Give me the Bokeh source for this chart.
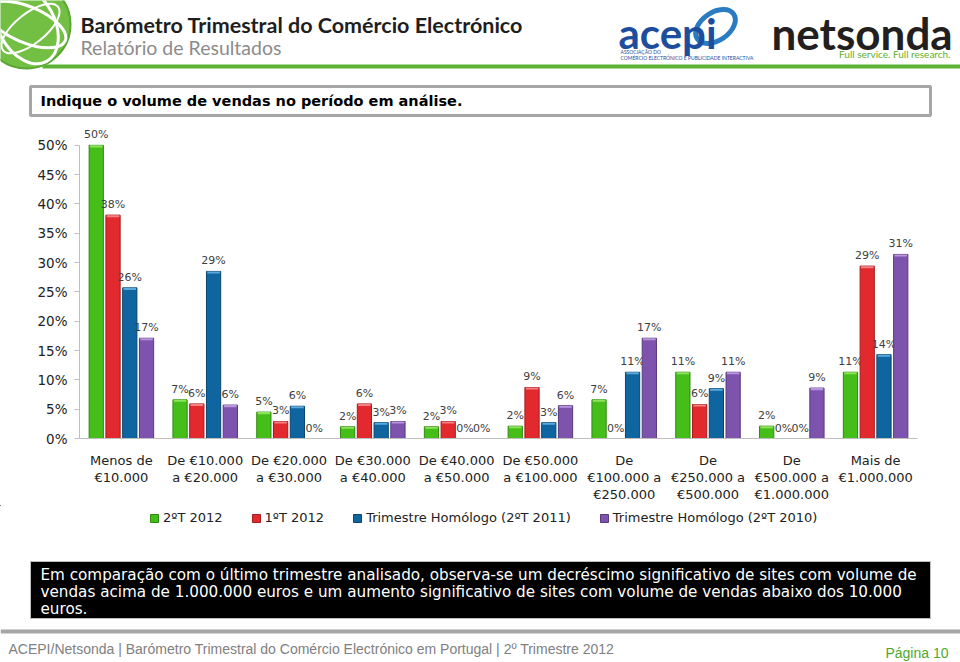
import math
from bokeh.plotting import figure
from bokeh.models import (ColumnDataSource, Range1d, FactorRange, FixedTicker,
                          PrintfTickFormatter, Legend, LegendItem)
from bokeh.transform import dodge
from bokeh.layouts import column
from bokeh.core.properties import value
from bokeh.embed import file_html
from bokeh.resources import INLINE

# ---------------- data ----------------
categories = ["Menos de\n€10.000", "De €10.000\na €20.000", "De €20.000\na €30.000",
              "De €30.000\na €40.000", "De €40.000\na €50.000", "De €50.000\na €100.000",
              "De\n€100.000 a\n€250.000", "De\n€250.000 a\n€500.000",
              "De\n€500.000 a\n€1.000.000", "Mais de\n€1.000.000"]
series_names = ["2ºT 2012", "1ºT 2012", "Trimestre Homólogo (2ºT 2011)",
                "Trimestre Homólogo (2ºT 2010)"]
t2_2012 = [50.0, 6.6, 4.5, 2.0, 2.0, 2.1, 6.6, 11.3, 2.1, 11.3]
t1_2012 = [38.1, 5.9, 2.9, 5.9, 2.9, 8.7, 0.0, 5.8, 0.0, 29.4]
t2_2011 = [25.7, 28.5, 5.5, 2.7, 0.0, 2.7, 11.3, 8.5, 0.0, 14.3]
t2_2010 = [17.1, 5.7, 0.0, 2.9, 0.0, 5.6, 17.1, 11.3, 8.6, 31.4]
series_values = [t2_2012, t1_2012, t2_2011, t2_2010]
y_ticks = [0, 5, 10, 15, 20, 25, 30, 35, 40, 45, 50]

title = "Barómetro Trimestral do Comércio Electrónico"
subtitle = "Relatório de Resultados"
question = "Indique o volume de vendas no período em análise."
note_lines = ["Em comparação com o último trimestre analisado, observa-se um decréscimo significativo de sites com volume de",
              "vendas acima de 1.000.000 euros e um aumento significativo de sites com volume de vendas abaixo dos 10.000",
              "euros."]
footer = "ACEPI/Netsonda | Barómetro Trimestral do Comércio Electrónico em Portugal | 2º Trimestre 2012"
page_label = "Página 10"

# ---------------- style ----------------
fills = ["#46BE1A", "#E2292E", "#0F659F", "#7E53AE"]
edges = ["#2E8A0E", "#A41D1F", "#0A4670", "#583A7B"]
caps = ["#8FE25E", "#F38284", "#5CA9DC", "#B995DE"]
offsets = [-0.3, -0.1, 0.1, 0.3]
FONT = value("DejaVu Sans")
W = 960


def deco_fig(h):
    f = figure(width=W, height=h, x_range=Range1d(0, W), y_range=Range1d(h, 0),
               toolbar_location=None, output_backend="svg", min_border=0,
               x_axis_location=None, y_axis_location=None, frame_align=False)
    f.grid.visible = False
    f.outline_line_color = None
    return f


# ---------------- header ----------------
hdr = deco_fig(118)
hdr.circle(x=26, y=24, radius=44, fill_color="#72BF44", line_color="#5AA832", line_width=2)
hdr.ellipse(x=26, y=24, width=56, height=84, angle=0.5, fill_color=None, line_color="white", line_width=3)
hdr.ellipse(x=26, y=24, width=84, height=36, angle=-0.4, fill_color=None, line_color="white", line_width=3)
hdr.ellipse(x=30, y=28, width=30, height=70, angle=-0.9, fill_color=None, line_color="white", line_width=2)
hdr.text(x=[80], y=[24], text=[title], text_font=value("Lato"), text_font_style="bold",
         text_font_size="21.5px", text_color="#1E1E1E", text_baseline="middle")
hdr.text(x=[80], y=[47], text=[subtitle], text_font=value("Lato"),
         text_font_size="19.5px", text_color="#8C8C8C", text_baseline="middle")
hdr.segment(x0=[42], y0=[66], x1=[W], y1=[66], line_color="#5CB335", line_width=4)
# acepi logo
hdr.ellipse(x=715, y=26, width=44, height=28, angle=0.6, fill_color=None, line_color="#2A7CC2", line_width=5)
hdr.text(x=[618], y=[32], text=["acepi"], text_font=value("Lato"), text_font_style="bold",
         text_font_size="42px", text_color="#1D4E9E", text_baseline="middle")
hdr.text(x=[620], y=[51], text=["ASSOCIAÇÃO DO"], text_font=value("Lato"),
         text_font_size="5px", text_color="#1D4E9E", text_baseline="middle")
hdr.text(x=[620], y=[57], text=["COMÉRCIO ELECTRÓNICO E PUBLICIDADE INTERACTIVA"], text_font=value("Lato"),
         text_font_size="5px", text_color="#1D4E9E", text_baseline="middle")
# netsonda logo
hdr.text(x=[771], y=[32], text=["netsonda"], text_font=value("Lato"), text_font_style="bold",
         text_font_size="44px", text_color="#231F20", text_baseline="middle")
hdr.text(x=[950], y=[53], text=["Full service. Full research."], text_font=value("Lato"),
         text_font_size="10px", text_color="#5DB12F", text_baseline="middle", text_align="right")
# question box
hdr.quad(left=[30], right=[930], top=[86], bottom=[115], fill_color="white",
         line_color="#A6A6A6", line_width=3)
hdr.text(x=[40], y=[100.5], text=[question], text_font=FONT, text_font_style="bold",
         text_font_size="14.5px", text_color="black", text_baseline="middle")

# ---------------- chart ----------------
data = dict(cat=categories)
for i, vals in enumerate(series_values):
    data[f"v{i}"] = vals
    data[f"c{i}"] = [max(v - 0.35, 0) for v in vals]
    data[f"l{i}"] = [f"{math.floor(v + 0.5)}%" for v in vals]
src = ColumnDataSource(data)

p = figure(width=W, height=387, x_range=FactorRange(*categories), y_range=Range1d(0, 54.24),
           toolbar_location=None, output_backend="svg", frame_align=False,
           min_border_left=79, min_border_right=43, min_border_top=2, min_border_bottom=65)
p.grid.visible = False
p.outline_line_color = None

for i in range(4):
    xs = dodge("cat", offsets[i], range=p.x_range)
    p.vbar(x=xs, top=f"v{i}", width=0.17, source=src, fill_color=fills[i],
           line_color=edges[i], line_width=1)
    p.vbar(x=xs, top=f"v{i}", bottom=f"c{i}", width=0.15, source=src,
           fill_color=caps[i], line_color=None)
    p.text(x=xs, y=f"v{i}", text=f"l{i}", source=src, text_align="center",
           text_baseline="bottom", y_offset=-4, text_font=FONT, text_font_size="11px",
           text_color="#404040")

p.yaxis.ticker = FixedTicker(ticks=y_ticks)
p.yaxis.formatter = PrintfTickFormatter(format="%d%%")
p.yaxis.bounds = (0, 50)
p.yaxis.minor_tick_line_color = None
p.yaxis.major_tick_out = 5
p.yaxis.major_tick_in = 0
p.yaxis.major_label_standoff = 7
p.yaxis.axis_line_color = "#BFBFBF"
p.yaxis.major_tick_line_color = "#BFBFBF"
p.yaxis.major_label_text_font = "DejaVu Sans"
p.yaxis.major_label_text_font_size = "13.5px"
p.yaxis.major_label_text_color = "#222222"

p.xaxis.axis_line_color = "#BFBFBF"
p.xaxis.major_tick_line_color = None
p.xaxis.major_label_standoff = 8
p.xaxis.major_label_text_font = "DejaVu Sans"
p.xaxis.major_label_text_font_size = "13px"
p.xaxis.major_label_text_color = "#222222"
p.xaxis.major_label_text_line_height = 1.15
p.xaxis.major_label_orientation = "horizontal"

# ---------------- bottom (legend + note + footer) ----------------
BH = 157
bot = deco_fig(BH)
legend_renderers = [bot.vbar(x=[-1000], top=[-100], bottom=[-110], width=1,
                             fill_color=fills[i], line_color=edges[i])
                    for i in range(4)]
legend = Legend(items=[LegendItem(label=n, renderers=[r]) for n, r in zip(series_names, legend_renderers)],
                orientation="horizontal", location=(149, BH - 20), glyph_width=10, glyph_height=10,
                spacing=28, label_standoff=4, padding=0, margin=0,
                border_line_color=None, background_fill_alpha=0,
                label_text_font="DejaVu Sans", label_text_font_size="13px",
                label_text_color="#222222")
bot.add_layout(legend)

bot.quad(left=[30], right=[930], top=[56], bottom=[113], fill_color="black", line_color="#BFBFBF")
bot.text(x=[40, 40, 40], y=[69, 86, 103], text=note_lines, text_font=FONT,
         text_font_size="15.2px", text_color="white", text_baseline="middle")
bot.segment(x0=[0], y0=[126], x1=[W], y1=[126], line_color="#A6A6A6", line_width=4)
bot.text(x=[8], y=[143], text=[footer], text_font=value("Liberation Sans"),
         text_font_size="14px", text_color="#808080", text_baseline="middle")
bot.text(x=[948], y=[147], text=[page_label], text_font=value("Liberation Sans"),
         text_font_size="14px", text_color="#4EA72E", text_baseline="middle", text_align="right")

layout = column(hdr, p, bot, spacing=0)
open("out.html", "w").write(file_html(layout, INLINE))
